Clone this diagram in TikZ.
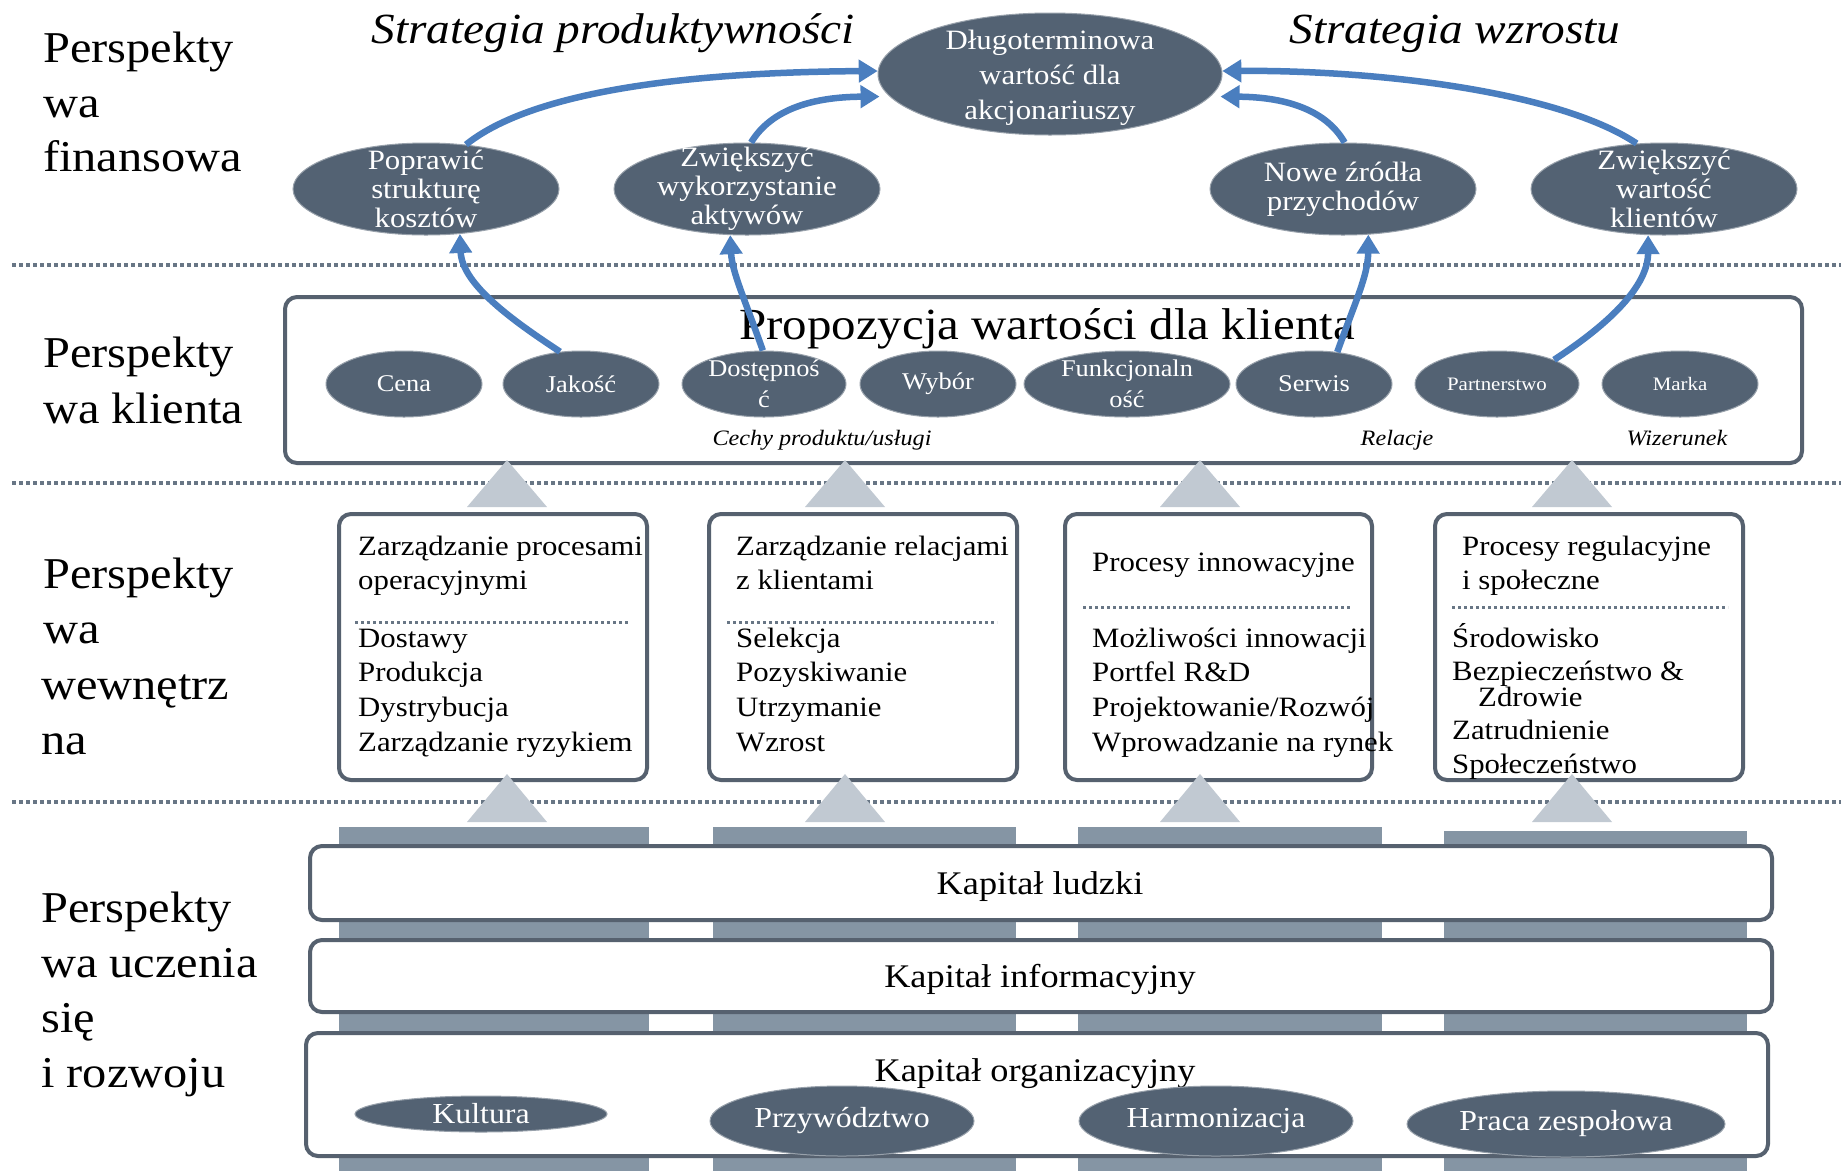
\documentclass[tikz,border=0pt]{standalone}
\usepackage{fontspec}
\setmainfont{Liberation Serif}[FakeStretch=1.1]
\usetikzlibrary{shapes.geometric,arrows.meta}
\definecolor{ellc}{HTML}{536273}
\definecolor{boxc}{HTML}{56616F}
\definecolor{arrc}{HTML}{4A7EBF}
\definecolor{pilc}{HTML}{8595A4}
\definecolor{tric}{HTML}{C1C9D2}
\definecolor{dotc}{HTML}{687685}
\newcommand\fsz[2]{\fontsize{#1}{#2}\selectfont}
\begin{document}
\begin{tikzpicture}[x=1pt,y=-1pt,
  lbl/.style={anchor=base west, inner sep=0pt, font=\fsz{44}{55}},
  strat/.style={anchor=base, inner sep=0pt, font=\fsz{43}{50}\itshape},
  ell/.style={ellipse, fill=ellc, draw=ellc!60!white, line width=1pt, inner sep=0pt},
  etxt/.style={text=white, align=center, inner sep=0pt},
  itx/.style={anchor=base west, inner sep=0pt, font=\fsz{28}{35}},
  ctx/.style={anchor=base, inner sep=0pt, font=\fsz{33}{38}},
  itl/.style={anchor=base, inner sep=0pt, font=\fsz{22}{26}\itshape},
  rbox/.style={draw=boxc, line width=4pt, fill=white, rounded corners=12pt},
  dotl/.style={draw=dotc, line width=3.5pt, dash pattern=on 3.5pt off 3.5pt},
  sepl/.style={draw=dotc, line width=3pt, dash pattern=on 3pt off 3pt},
  pillar/.style={fill=pilc},
  tri/.style={fill=tric},
  barrow/.style={draw=arrc, line width=6.5pt, -{Triangle[length=19pt,width=22pt]}}
]
\fill[white] (0,0) rectangle (1841,1171);
\useasboundingbox (0,0) rectangle (1841,1171);

% dotted separators
\draw[dotl] (12,265) -- (1841,265);
\draw[dotl] (12,483) -- (1841,483);
\draw[dotl] (12,802) -- (1841,802);

% left labels
\node[lbl] (f1) at (43,62) {Perspekty};
\node[lbl] (f2) at (43,117) {wa};
\node[lbl] (f3) at (43,171) {finansowa};
\node[lbl] (k1) at (43,367) {Perspekty};
\node[lbl] (k2) at (43,423) {wa klienta};
\node[lbl] (w1) at (43,588) {Perspekty};
\node[lbl] (w2) at (43,643) {wa};
\node[lbl] (w3) at (41,699) {wewnętrz};
\node[lbl] (w4) at (41,754) {na};
\node[lbl] (u1) at (41,922) {Perspekty};
\node[lbl] (u2) at (41,977) {wa uczenia};
\node[lbl] (u3) at (41,1032) {się};
\node[lbl] (u4) at (41,1087) {i rozwoju};

% pillars
\fill[pillar] (339,827) rectangle (649,1171);
\fill[pillar] (713,827) rectangle (1016,1171);
\fill[pillar] (1078,827) rectangle (1382,1171);
\fill[pillar] (1444,831) rectangle (1747,1171);

% capital boxes
\draw[rbox] (310,846) rectangle (1772,920);
\draw[rbox] (310,940) rectangle (1772,1012);
\draw[rbox] (306,1033) rectangle (1768,1156);
\node[ctx] (kl) at (1040,894) {Kapitał ludzki};
\node[ctx] (ki) at (1040,987) {Kapitał informacyjny};
\node[ctx] (ko) at (1035,1081) {Kapitał organizacyjny};

\node[ell, minimum width=252, minimum height=36] (kult) at (481,1114) {};
\node[etxt, font=\fsz{29}{32}] (kultt) at (kult) {Kultura};
\node[ell, minimum width=264, minimum height=70] (przy) at (842,1121) {};
\node[etxt, font=\fsz{29}{32}] (przyt) at (przy) {Przywództwo};
\node[ell, minimum width=274, minimum height=70] (harm) at (1216,1121) {};
\node[etxt, font=\fsz{29}{32}] (harmt) at (harm) {Harmonizacja};
\node[ell, minimum width=318, minimum height=66] (prac) at (1566,1124) {};
\node[etxt, font=\fsz{29}{32}] (pract) at (prac) {Praca zespołowa};

% internal boxes
\draw[rbox] (339,514) rectangle (647,780);
\draw[rbox] (709,514) rectangle (1017,780);
\draw[rbox] (1065,514) rectangle (1372,780);
\draw[rbox] (1435,514) rectangle (1743,780);
\draw[sepl] (355,622) -- (630,622);
\draw[sepl] (727,622) -- (997,622);
\draw[sepl] (1083,607) -- (1352,607);
\draw[sepl] (1452,607) -- (1728,607);

\node[itx] (a1) at (358,555) {Zarządzanie procesami};
\node[itx] (a2) at (358,589) {operacyjnymi};
\node[itx] (a3) at (358,647) {Dostawy};
\node[itx] (a4) at (358,681) {Produkcja};
\node[itx] (a5) at (358,716) {Dystrybucja};
\node[itx] (a6) at (358,751) {Zarządzanie ryzykiem};

\node[itx] (b1) at (736,555) {Zarządzanie relacjami};
\node[itx] (b2) at (736,589) {z klientami};
\node[itx] (b3) at (736,647) {Selekcja};
\node[itx] (b4) at (736,681) {Pozyskiwanie};
\node[itx] (b5) at (736,716) {Utrzymanie};
\node[itx] (b6) at (736,751) {Wzrost};

\node[itx] (c1) at (1092,571) {Procesy innowacyjne};
\node[itx] (c3) at (1092,647) {Możliwości innowacji};
\node[itx] (c4) at (1092,681) {Portfel R\&D};
\node[itx] (c5) at (1092,716) {Projektowanie/Rozwój};
\node[itx] (c6) at (1092,751) {Wprowadzanie na rynek};

\node[itx] (d1) at (1462,555) {Procesy regulacyjne};
\node[itx] (d2) at (1462,589) {i społeczne};
\node[itx] (d3) at (1452,647) {Środowisko};
\node[itx] (d4) at (1452,680) {Bezpieczeństwo \&};
\node[itx] (d5) at (1478,706) {Zdrowie};
\node[itx] (d6) at (1452,739) {Zatrudnienie};
\node[itx] (d7) at (1452,773) {Społeczeństwo};

% customer box
\draw[rbox] (285,297) rectangle (1802,463);
\node[anchor=base, inner sep=0pt, font=\fsz{44.5}{50}] (prop) at (1047,339) {Propozycja wartości dla klienta};

\node[ell, minimum width=156, minimum height=66] (cena) at (404,384) {};
\node[etxt, font=\fsz{24}{31}] (cenat) at (cena) {Cena};
\node[ell, minimum width=156, minimum height=66] (jak) at (581,384) {};
\node[etxt, font=\fsz{24}{31}] (jakt) at (jak) {Jakość};
\node[ell, minimum width=164, minimum height=66] (dost) at (764,384) {};
\node[etxt, font=\fsz{24}{31}] (dostt) at (dost) {Dostępnoś\\ć};
\node[ell, minimum width=156, minimum height=66] (wyb) at (938,384) {};
\node[etxt, font=\fsz{24}{31}] (wybt) at (wyb) {Wybór};
\node[ell, minimum width=206, minimum height=66] (funk) at (1127,384) {};
\node[etxt, font=\fsz{24}{31}] (funkt) at (funk) {Funkcjonaln\\ość};
\node[ell, minimum width=156, minimum height=66] (serw) at (1314,384) {};
\node[etxt, font=\fsz{24}{31}] (serwt) at (serw) {Serwis};
\node[ell, minimum width=164, minimum height=66] (part) at (1497,384) {};
\node[etxt, font=\fsz{19}{24}] (partt) at (part) {Partnerstwo};
\node[ell, minimum width=156, minimum height=66] (mark) at (1680,384) {};
\node[etxt, font=\fsz{19}{24}] (markt) at (mark) {Marka};

\node[itl] (cech) at (822,445) {Cechy produktu/usługi};
\node[itl] (rel) at (1397,445) {Relacje};
\node[itl] (wiz) at (1677,445) {Wizerunek};

% triangles
\foreach \tx in {507,845,1200,1572}{
  \fill[tri] (\tx,460) -- (\tx+40,507) -- (\tx-40,507) -- cycle;
  \fill[tri] (\tx,774) -- (\tx+40,822) -- (\tx-40,822) -- cycle;
}

% strategy titles
\node[strat] (sp) at (613,43) {Strategia produktywności};
\node[strat] (sw) at (1455,43) {Strategia wzrostu};

% financial ellipses
\node[ell, minimum width=344, minimum height=122] (dl) at (1050,74) {};
\node[ell, minimum width=266, minimum height=92] (pop) at (426,189) {};
\node[ell, minimum width=266, minimum height=92] (wyk) at (747,189) {};
\node[ell, minimum width=266, minimum height=92] (nowe) at (1343,189) {};
\node[ell, minimum width=266, minimum height=92] (zwk) at (1664,189) {};

% arrows
\draw[barrow] (jak.123) .. controls (515,322) and (462,285) .. (pop.-53);
\draw[barrow] (dost.92) .. controls (745,300) and (732,272) .. (wyk.-110);
\draw[barrow] (serw.54) .. controls (1356,300) and (1368,275) .. (nowe.-61);
\draw[barrow] (part.23) .. controls (1612,322) and (1648,285) .. (zwk.-109);

\draw[barrow] (pop.48) .. controls (540,85) and (720,72) .. (dl.179);
\draw[barrow] (wyk.85) .. controls (772,108) and (815,97) .. ([xshift=-10pt]dl.188);
\draw[barrow] (nowe.88) .. controls (1325,108) and (1282,97) .. ([xshift=10pt]dl.-8);
\draw[barrow] (zwk.121) .. controls (1560,92) and (1380,70) .. (dl.1);

% ellipse texts
\node[etxt, font=\fsz{28}{35}] (dlt) at ([yshift=-4pt]dl.center) {Długoterminowa\\wartość dla\\akcjonariuszy};
\node[etxt, font=\fsz{28}{29}] (popt) at (pop) {Poprawić\\strukturę\\kosztów};
\node[etxt, font=\fsz{28}{29}] (wykt) at (wyk) {Zwiększyć\\wykorzystanie\\aktywów};
\node[etxt, font=\fsz{28}{29}] (nowet) at (nowe) {Nowe źródła\\przychodów};
\node[etxt, font=\fsz{28}{29}] (zwkt) at (zwk) {Zwiększyć\\wartość\\klientów};
\end{tikzpicture}
\end{document}
